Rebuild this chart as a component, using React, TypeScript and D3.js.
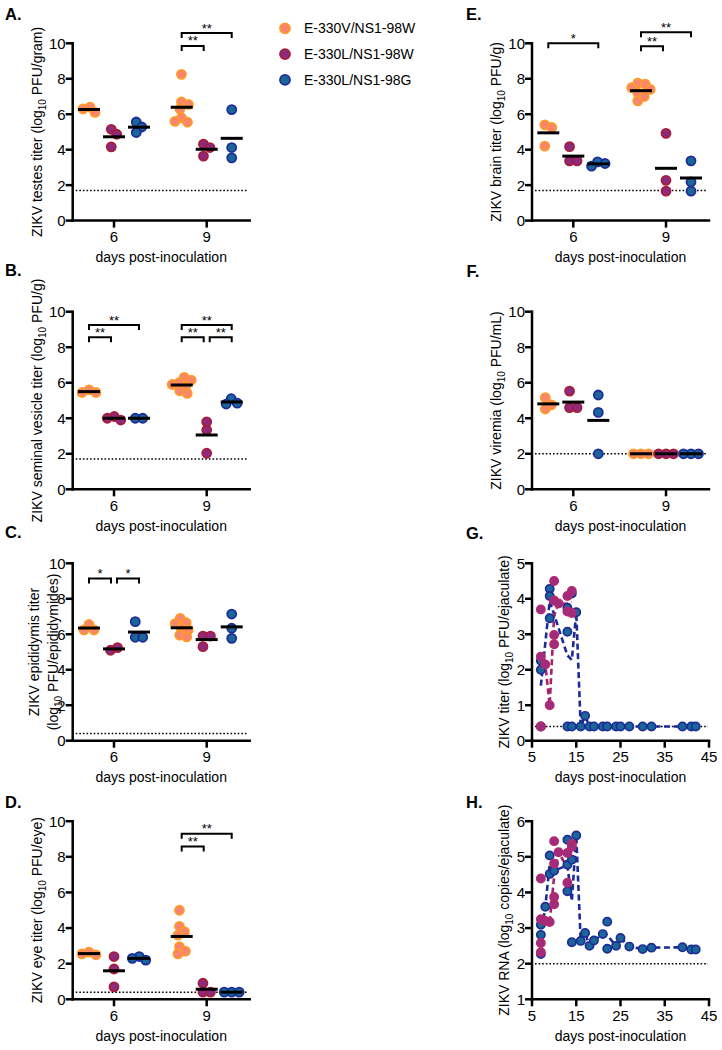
import React from "react";
import * as d3 from "d3";

const FONT = "'Liberation Sans', Arial, Helvetica, sans-serif";

// ---------- categories / legend ----------
const strains = ["E-330V/NS1-98W", "E-330L/NS1-98W", "E-330L/NS1-98G"];
const dayCats = [6, 9];
const titerTicks = [0, 2, 4, 6, 8, 10];
const ejacDayTicks = [5, 15, 25, 35, 45];
const ejacTiterTicks = [0, 1, 2, 3, 4, 5];
const ejacRnaTicks = [1, 2, 3, 4, 5, 6];

// ---------- A. testes ----------
const testesDay6 = [[6.4, 6.1, 6.3], [5.15, 4.87, 4.16], [5.56, 5.28, 4.97]];
const testesDay9 = [[8.25, 6.7, 6.55, 6.3, 5.8, 5.55, 5.6], [4.31, 4.12, 3.64], [6.26, 4.12, 3.54]];
// ---------- B. seminal vesicle ----------
const vesicleDay6 = [[5.6, 5.45, 5.45], [4.1, 3.9, 4.0], [4.0, 4.0]];
const vesicleDay9 = [[6.3, 6.15, 6.0, 5.9, 5.8, 5.55, 5.4], [3.8, 3.34, 2.03], [5.1, 4.85, 4.8]];
// ---------- C. epididymis ----------
const epididymisDay6 = [[6.55, 6.25, 6.25], [5.1, 5.25], [6.71, 5.83, 5.83]];
const epididymisDay9 = [[6.9, 6.65, 6.6, 6.35, 6.25, 5.95, 5.85], [5.3, 5.9, 5.9], [7.14, 6.34, 5.77]];
// ---------- D. eye ----------
const eyeDay6 = [[2.65, 2.5, 2.55], [2.4, 1.7, 0.7], [2.4, 2.2, 2.3]];
const eyeDay9 = [[5.0, 4.1, 3.8, 3.6, 2.95, 2.7, 2.55], [0.9, 0.4, 0.4], [0.4, 0.4, 0.4]];
// ---------- E. brain ----------
const brainDay6 = [[5.4, 5.25, 4.2], [4.17, 3.37, 3.37], [3.31, 3.22, 3.07]];
const brainDay9 = [[7.75, 7.7, 7.5, 7.4, 7.2, 7.0, 6.75], [4.92, 2.27, 1.66], [3.37, 2.18, 1.66]];
// ---------- F. viremia ----------
const viremiaDay6 = [[5.16, 4.52, 4.75], [5.53, 4.6, 4.6], [5.31, 4.33, 2.0]];
const viremiaDay9 = [[2, 2, 2], [2, 2, 2], [2, 2, 2]];

// ---------- G. infectious virus in ejaculate ----------
const ejacTiterMagDays = [7, 7, 7, 8, 9, 10, 10, 10, 10, 11, 13, 13, 14, 14];
const ejacTiterMagVals = [3.7, 2.37, 0.4, 2.15, 1.0, 4.5, 3.95, 2.98, 2.72, 3.87, 4.08, 3.64, 4.22, 3.6];
const ejacTiterBlueDays = [7, 7, 7, 9, 9, 9, 13, 13, 13, 14, 14, 15, 16, 17, 18, 19, 21, 22, 24, 25, 27, 30, 32, 39, 41, 42];
const ejacTiterBlueVals = [2.0, 2.25, 0.4, 4.28, 4.08, 3.45, 3.75, 3.07, 0.4, 4.15, 0.4, 3.62, 0.4, 0.7, 0.4, 0.4, 0.4, 0.4, 0.4, 0.4, 0.4, 0.4, 0.4, 0.4, 0.4, 0.4];

// ---------- H. viral RNA in ejaculate ----------
const ejacRnaMagDays = [7, 7, 7, 7, 8, 9, 10, 10, 10, 10, 11, 13, 13, 14, 14];
const ejacRnaMagVals = [4.39, 3.25, 2.58, 2.32, 3.2, 3.17, 5.44, 4.81, 3.87, 3.67, 5.13, 5.11, 4.27, 5.36, 5.28];
const ejacRnaBlueDays = [7, 7, 7, 8, 9, 9, 10, 13, 13, 13, 14, 14, 15, 16, 17, 18, 19, 21, 22, 22, 24, 25, 27, 30, 32, 39, 41, 42];
const ejacRnaBlueVals = [3.09, 2.81, 2.27, 3.6, 5.04, 4.52, 4.61, 5.48, 4.78, 4.03, 4.92, 2.6, 5.6, 2.64, 2.86, 2.5, 2.65, 2.83, 3.18, 2.42, 2.5, 2.72, 2.48, 2.41, 2.45, 2.46, 2.4, 2.4];

// ---------- limits of detection ----------
const lodTestes = 1.7, lodVesicle = 1.7, lodEpididymis = 0.4, lodEye = 0.4, lodBrain = 1.7, lodViremia = 2.0;
const lodEjacTiter = 0.4, lodEjacRna = 2.0;

// ---------- significance brackets ----------
const bracketsA = [
  { day: 9, from: 0, to: 1, y: 9.85, label: "**" },
  { day: 9, from: 0, to: 2, y: 10.58, label: "**" },
];
const bracketsB = [
  { day: 6, from: 0, to: 1, y: 8.56, label: "**" },
  { day: 6, from: 0, to: 2, y: 9.25, label: "**" },
  { day: 9, from: 0, to: 1, y: 8.56, label: "**" },
  { day: 9, from: 1, to: 2, y: 8.56, label: "**" },
  { day: 9, from: 0, to: 2, y: 9.25, label: "**" },
];
const bracketsC = [
  { day: 6, from: 0, to: 1, y: 9.15, label: "*" },
  { day: 6, from: 1, to: 2, y: 9.15, label: "*" },
];
const bracketsD = [
  { day: 9, from: 0, to: 1, y: 8.58, label: "**" },
  { day: 9, from: 0, to: 2, y: 9.29, label: "**" },
];
const bracketsE = [
  { day: 6, from: 0, to: 2, y: 10.0, label: "*" },
  { day: 9, from: 0, to: 1, y: 9.84, label: "**" },
  { day: 9, from: 0, to: 2, y: 10.62, label: "**" },
];
const bracketsF: any[] = [];

// ---------- axis titles ----------
const xTitle = "days post-inoculation";
const yLabelA = [["ZIKV testes titer (log", "10", " PFU/gram)"]];
const yLabelB = [["ZIKV seminal vesicle titer (log", "10", " PFU/g)"]];
const yLabelC = [["ZIKV epididymis titer", "", ""], ["(log", "10", " PFU/epididymides)"]];
const yLabelD = [["ZIKV eye titer (log", "10", " PFU/eye)"]];
const yLabelE = [["ZIKV brain titer (log", "10", " PFU/g)"]];
const yLabelF = [["ZIKV viremia (log", "10", " PFU/mL)"]];
const yLabelG = [["ZIKV titer (log", "10", " PFU/ejaculate)"]];
const yLabelH = [["ZIKV RNA (log", "10", " copies/ejaculate)"]];

// ---------- styles / layout ----------
const fills = ["#F8856F", "#8C2A80", "#1A6699"];
const strokes = ["#FF9A28", "#A81C36", "#1E2C98"];
const magFill = "#9E2D80";
const magStroke = "#B4286C";
const magLine = "#A3226A";
const blueLine = "#1B2C98";

const LX = 72.7;
const RX = 532;
const AX_W = 177;
const rowTop = [43.3, 311.7, 563.3, 821.2];
const rowBot = [220.6, 489.3, 740.7, 999.3];
const strainOffset = [-25, 0, 25];

function dodge(vals: number[], y: (v: number) => number, s: number) {
  const placed: { v: number; y: number; x: number }[] = [];
  vals.forEach((v) => {
    const py = y(v);
    let off = 0;
    for (let k = 0; k < 400; k++) {
      const cand = k === 0 ? 0 : k % 2 ? Math.ceil(k / 2) * 0.5 : -Math.ceil(k / 2) * 0.5;
      if (placed.every((q) => Math.hypot(q.x - cand, q.y - py) >= s)) {
        off = cand;
        break;
      }
    }
    placed.push({ v, y: py, x: off });
  });
  const mn = d3.min(placed, (p) => p.x) as number;
  const mx = d3.max(placed, (p) => p.x) as number;
  const c = (mn + mx) / 2;
  placed.forEach((p) => (p.x -= c));
  return placed;
}

function YTitle({ lines, cx, cy, gap }: { lines: string[][]; cx: number; cy: number; gap: number }) {
  const n = lines.length;
  return (
    <g>
      {lines.map((ln, i) => {
        const x = cx - ((n - 1) / 2 - i) * gap;
        return (
          <text
            key={i}
            transform={`translate(${x},${cy}) rotate(-90)`}
            textAnchor="middle"
            dy="0.35em"
            fontSize={14}
            fontFamily={FONT}
          >
            {ln[0]}
            {ln[1] ? (
              <>
                <tspan fontSize={10} dy={4}>
                  {ln[1]}
                </tspan>
                <tspan dy={-4}>{ln[2]}</tspan>
              </>
            ) : null}
          </text>
        );
      })}
    </g>
  );
}

function Axes({ x0, yTop, yBot, yScale, yTicks, xTicks }: any) {
  return (
    <g fontFamily={FONT}>
      <line x1={x0} x2={x0} y1={yTop} y2={yBot} stroke="#000" strokeWidth={2.5} strokeLinecap="square" />
      <line x1={x0} x2={x0 + AX_W} y1={yBot} y2={yBot} stroke="#000" strokeWidth={2.5} strokeLinecap="square" />
      {yTicks.map((t: number) => (
        <g key={"y" + t}>
          <line x1={x0 - 7} x2={x0} y1={yScale(t)} y2={yScale(t)} stroke="#000" strokeWidth={2.5} />
          <text x={x0 - 7} y={yScale(t)} dy="0.36em" textAnchor="end" fontSize={15}>
            {t}
          </text>
        </g>
      ))}
      {xTicks.map((t: { v: number; x: number }) => (
        <g key={"x" + t.v}>
          <line x1={t.x} x2={t.x} y1={yBot} y2={yBot + 7} stroke="#000" strokeWidth={2.5} />
          <text x={t.x} y={yBot + 21.5} textAnchor="middle" fontSize={15}>
            {t.v}
          </text>
        </g>
      ))}
      <text x={x0 + AX_W / 2} y={yBot + 41.5} textAnchor="middle" fontSize={14}>
        {xTitle}
      </text>
    </g>
  );
}

function DotPanel({ p }: { p: any }) {
  const x0 = p.x0;
  const yTop = rowTop[p.row];
  const yBot = rowBot[p.row];
  const y = d3.scaleLinear().domain([0, 10]).range([yBot, yTop]);
  const xd = d3.scaleLinear().domain([6, 9]).range([x0 + 41.3, x0 + 134]);
  const groups: any[] = [];
  [p.d6, p.d9].forEach((dayData: number[][], di: number) =>
    dayData.forEach((vals, si) => {
      const cx = xd(dayCats[di]) + strainOffset[si];
      groups.push({ cx, si, pts: dodge(vals, y, 7.2), mean: d3.mean(vals) as number });
    })
  );
  const bx = (day: number, s: number) => xd(day) + strainOffset[s];
  return (
    <g>
      <line
        x1={x0 + 3}
        x2={x0 + AX_W - 2}
        y1={y(p.lod)}
        y2={y(p.lod)}
        stroke="#000"
        strokeWidth={1.5}
        strokeDasharray="1.6 2"
      />
      <Axes
        x0={x0}
        yTop={y(10)}
        yBot={yBot}
        yScale={y}
        yTicks={titerTicks}
        xTicks={dayCats.map((d) => ({ v: d, x: xd(d) }))}
      />
      <YTitle lines={p.ylab} cx={p.ylab.length > 1 ? x0 - 29 : x0 - 36} cy={(yTop + yBot) / 2} gap={19} />
      {groups.map((g, gi) => (
        <g key={gi}>
          {g.pts.map((pt: any, i: number) => (
            <circle
              key={i}
              cx={g.cx + pt.x}
              cy={pt.y}
              r={4.5}
              fill={fills[g.si]}
              stroke={strokes[g.si]}
              strokeWidth={1.8}
            />
          ))}
        </g>
      ))}
      {groups.map((g, gi) => (
        <line
          key={"m" + gi}
          x1={g.cx - 11}
          x2={g.cx + 11}
          y1={y(g.mean)}
          y2={y(g.mean)}
          stroke="#000"
          strokeWidth={3}
        />
      ))}
      {p.br.map((b: any, i: number) => {
        let x1 = bx(b.day, b.from);
        let x2 = bx(b.day, b.to);
        if (b.from === 1) x1 += 3;
        if (b.to === 1) x2 -= 3;
        const yy = y(b.y);
        return (
          <g key={"b" + i}>
            <path
              d={`M${x1},${yy + 5}V${yy}H${x2}V${yy + 5}`}
              fill="none"
              stroke="#000"
              strokeWidth={2}
            />
            <text x={(x1 + x2) / 2} y={yy - 0.5} textAnchor="middle" fontSize={13} fontFamily={FONT}>
              {b.label}
            </text>
          </g>
        );
      })}
    </g>
  );
}

function EjacPanel({ p }: { p: any }) {
  const x0 = RX;
  const yTop = rowTop[p.row];
  const yBot = rowBot[p.row];
  const y = d3.scaleLinear().domain(p.yDomain).range([yBot, yTop]);
  const x = d3.scaleLinear().domain([5, 45]).range([x0, x0 + AX_W]);
  const series = [
    { days: p.blueDays, vals: p.blueVals, fill: fills[2], stroke: strokes[2], line: blueLine },
    { days: p.magDays, vals: p.magVals, fill: magFill, stroke: magStroke, line: magLine },
  ];
  const lineGen = d3
    .line<[number, number]>()
    .x((d) => x(d[0]))
    .y((d) => y(d[1]));
  const trends = series.map((s) => {
    const roll = d3.rollup(
      s.days.map((d: number, i: number) => [d, s.vals[i]]),
      (v: any[]) => d3.mean(v, (e) => e[1]) as number,
      (e: any) => e[0]
    );
    return Array.from(roll.entries()).sort((a, b) => a[0] - b[0]) as [number, number][];
  });
  return (
    <g>
      <line
        x1={x0 + 3}
        x2={x0 + AX_W - 1}
        y1={y(p.lod)}
        y2={y(p.lod)}
        stroke="#000"
        strokeWidth={1.5}
        strokeDasharray="1.6 2"
      />
      <Axes
        x0={x0}
        yTop={yTop}
        yBot={yBot}
        yScale={y}
        yTicks={p.yTicks}
        xTicks={ejacDayTicks.map((d) => ({ v: d, x: x(d) }))}
      />
      <YTitle lines={p.ylab} cx={x0 - 28} cy={(yTop + yBot) / 2} gap={19} />
      {series.map((s, i) => (
        <path
          key={"l" + i}
          d={lineGen(trends[i]) as string}
          fill="none"
          stroke={s.line}
          strokeWidth={2.6}
          strokeDasharray="6 3.5"
        />
      ))}
      {series.map((s, i) => (
        <g key={"d" + i}>
          {s.days.map((d: number, j: number) => (
            <circle
              key={j}
              cx={x(d)}
              cy={y(s.vals[j])}
              r={4.1}
              fill={s.fill}
              stroke={s.stroke}
              strokeWidth={1.7}
            />
          ))}
        </g>
      ))}
    </g>
  );
}

const dotPanels = [
  { key: "A", x0: LX, row: 0, d6: testesDay6, d9: testesDay9, lod: lodTestes, ylab: yLabelA, br: bracketsA },
  { key: "B", x0: LX, row: 1, d6: vesicleDay6, d9: vesicleDay9, lod: lodVesicle, ylab: yLabelB, br: bracketsB },
  { key: "C", x0: LX, row: 2, d6: epididymisDay6, d9: epididymisDay9, lod: lodEpididymis, ylab: yLabelC, br: bracketsC },
  { key: "D", x0: LX, row: 3, d6: eyeDay6, d9: eyeDay9, lod: lodEye, ylab: yLabelD, br: bracketsD },
  { key: "E", x0: RX, row: 0, d6: brainDay6, d9: brainDay9, lod: lodBrain, ylab: yLabelE, br: bracketsE },
  { key: "F", x0: RX, row: 1, d6: viremiaDay6, d9: viremiaDay9, lod: lodViremia, ylab: yLabelF, br: bracketsF },
];

const ejacPanels = [
  {
    key: "G",
    row: 2,
    yDomain: [0, 5],
    yTicks: ejacTiterTicks,
    lod: lodEjacTiter,
    ylab: yLabelG,
    magDays: ejacTiterMagDays,
    magVals: ejacTiterMagVals,
    blueDays: ejacTiterBlueDays,
    blueVals: ejacTiterBlueVals,
  },
  {
    key: "H",
    row: 3,
    yDomain: [1, 6],
    yTicks: ejacRnaTicks,
    lod: lodEjacRna,
    ylab: yLabelH,
    magDays: ejacRnaMagDays,
    magVals: ejacRnaMagVals,
    blueDays: ejacRnaBlueDays,
    blueVals: ejacRnaBlueVals,
  },
];

const panelLetters = [
  { t: "A.", x: 5, y: 19.5 },
  { t: "B.", x: 5, y: 276 },
  { t: "C.", x: 5, y: 538 },
  { t: "D.", x: 5, y: 807.5 },
  { t: "E.", x: 466, y: 19.5 },
  { t: "F.", x: 466.5, y: 277 },
  { t: "G.", x: 466, y: 539 },
  { t: "H.", x: 466, y: 808 },
];

export default function App() {
  return (
    <div style={{ position: "absolute", left: 0, top: 0 }}>
      <svg width={722} height={1050} style={{ display: "block", background: "#fff" }}>
        <rect width={722} height={1050} fill="#fff" />
        {panelLetters.map((l) => (
          <text key={l.t} x={l.x} y={l.y} fontFamily={FONT} fontWeight="bold" fontSize={16.5}>
            {l.t}
          </text>
        ))}
        {strains.map((s, i) => (
          <g key={s}>
            <circle cx={285} cy={28.3 + i * 25.8} r={5} fill={fills[i]} stroke={strokes[i]} strokeWidth={1.8} />
            <text x={304} y={28.3 + i * 25.8} dy="0.36em" fontFamily={FONT} fontSize={14}>
              {s}
            </text>
          </g>
        ))}
        {dotPanels.map((p) => (
          <DotPanel key={p.key} p={p} />
        ))}
        {ejacPanels.map((p) => (
          <EjacPanel key={p.key} p={p} />
        ))}
      </svg>
    </div>
  );
}
